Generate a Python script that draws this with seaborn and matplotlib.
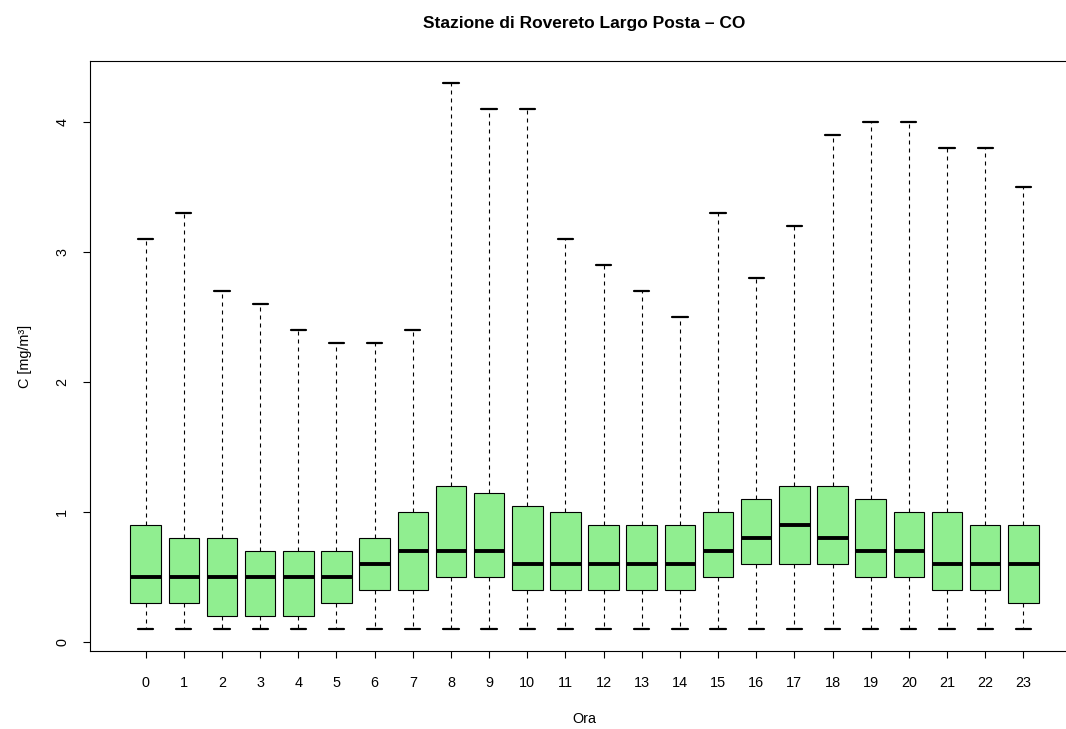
import numpy as np
import pandas as pd
import matplotlib
matplotlib.use("Agg")
import matplotlib.pyplot as plt
import seaborn as sns

# riepilogo a cinque numeri per ora
ore = [0, 1, 2, 3, 4, 5, 6, 7, 8, 9, 10, 11, 12, 13, 14, 15, 16, 17, 18, 19, 20, 21, 22, 23]
minimo = [0.1, 0.1, 0.1, 0.1, 0.1, 0.1, 0.1, 0.1, 0.1, 0.1, 0.1, 0.1,
          0.1, 0.1, 0.1, 0.1, 0.1, 0.1, 0.1, 0.1, 0.1, 0.1, 0.1, 0.1]
q1 = [0.3, 0.3, 0.2, 0.2, 0.2, 0.3, 0.4, 0.4, 0.5, 0.5, 0.4, 0.4,
      0.4, 0.4, 0.4, 0.5, 0.6, 0.6, 0.6, 0.5, 0.5, 0.4, 0.4, 0.3]
mediana = [0.5, 0.5, 0.5, 0.5, 0.5, 0.5, 0.6, 0.7, 0.7, 0.7, 0.6, 0.6,
           0.6, 0.6, 0.6, 0.7, 0.8, 0.9, 0.8, 0.7, 0.7, 0.6, 0.6, 0.6]
q3 = [0.9, 0.8, 0.8, 0.7, 0.7, 0.7, 0.8, 1.0, 1.2, 1.15, 1.05, 1.0,
      0.9, 0.9, 0.9, 1.0, 1.1, 1.2, 1.2, 1.1, 1.0, 1.0, 0.9, 0.9]
massimo = [3.1, 3.3, 2.7, 2.6, 2.4, 2.3, 2.3, 2.4, 4.3, 4.1, 4.1, 3.1,
           2.9, 2.7, 2.5, 3.3, 2.8, 3.2, 3.9, 4.0, 4.0, 3.8, 3.8, 3.5]

sns.set_style("white")
plt.rcParams['font.family'] = ['Liberation Sans', 'DejaVu Sans']
plt.rcParams['text.color'] = 'black'
plt.rcParams['axes.labelcolor'] = 'black'
plt.rcParams['xtick.color'] = 'black'
plt.rcParams['ytick.color'] = 'black'

righe = []
for i, ora in enumerate(ore):
    for v in (minimo[i], q1[i], mediana[i], q3[i], massimo[i]):
        righe.append({"Ora": ora, "C": v})
df = pd.DataFrame(righe)

fig = plt.figure(figsize=(10.66, 7.29), dpi=100)
ax = fig.add_axes([90 / 1066, 78 / 729, (1079 - 90) / 1066, (651 - 61) / 729])

sns.boxplot(
    data=df, x="Ora", y="C", ax=ax,
    color="lightgreen", saturation=1, linecolor="black", linewidth=0.8,
    width=0.8, whis=(0, 100), fliersize=0,
    medianprops=dict(linewidth=2.8, solid_capstyle="butt"),
    whiskerprops=dict(linestyle=(0, (3.6, 3.6))),
    capprops=dict(linewidth=1.6),
)

ax.set_xlim(-1.46, 24.46)
ax.set_ylim(-0.068, 4.468)
ax.set_yticks([0, 1, 2, 3, 4])
ax.set_yticklabels(["0", "1", "2", "3", "4"], rotation=90, va="center")
ax.tick_params(axis="both", direction="out", length=5, width=0.8, labelsize=10.4,
               left=True, bottom=True, color="black")
ax.tick_params(axis="x", pad=13)
ax.tick_params(axis="y", pad=10)
for s in ax.spines.values():
    s.set_color("black")
    s.set_linewidth(0.8)

ax.set_xlabel("Ora", fontsize=10.4, labelpad=16)
ax.set_ylabel("C [mg/m³]", fontsize=10.4, labelpad=17)
ax.set_title("Stazione di Rovereto Largo Posta – CO", fontsize=12.5,
             fontweight="bold", pad=24)

fig.savefig("out.png", dpi=100)
